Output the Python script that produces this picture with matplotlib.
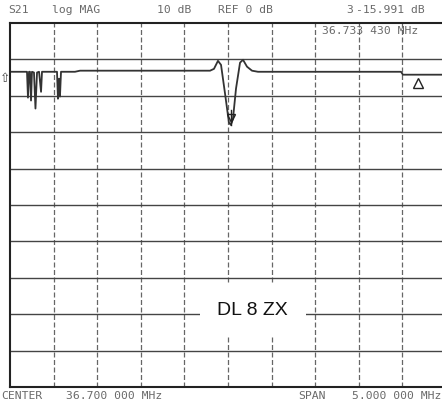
import matplotlib
matplotlib.use('Agg')
import matplotlib.pyplot as plt
import matplotlib.transforms as mtransforms
import numpy as np

# S21 sweep, 36.7 MHz centre, 5 MHz span, log mag 10 dB/div
center_mhz = 36.7
span_mhz = 5.0
scale_db = 10.0
top_db = 12.0

freq_mhz = [34.200, 34.383, 34.395, 34.406, 34.418, 34.429, 34.441, 34.452,
            34.475, 34.492, 34.510, 34.533, 34.556, 34.567, 34.739, 34.750,
            34.762, 34.773, 34.785, 34.945, 35.003, 35.806, 36.494, 36.539,
            36.585, 36.620, 36.666, 36.711, 36.7334, 36.757, 36.792, 36.838,
            36.872, 36.918, 36.975, 37.044, 37.526, 38.443, 38.684, 38.706,
            39.154, 39.200]
s21_db = [-1.4, -1.4, -1.4, -8.5, -1.4, -1.4, -9.3, -1.4,
          -1.6, -11.5, -1.6, -1.4, -6.9, -1.4, -1.4, -8.8,
          -3.3, -8.2, -1.4, -1.4, -1.1, -1.1, -1.1, -0.6,
          1.6, 0.5, -7.4, -15.4, -15.991, -14.3, -6.0, 1.1,
          1.9, 0.0, -1.1, -1.4, -1.4, -1.4, -1.4, -2.2,
          -2.2, -2.2]

# marker 3 (active) and delta reference marker
marker_f = 36.7334
marker_db = -15.991
delta_f = 38.88
delta_db = -2.2

start = center_mhz - span_mhz / 2
stop = center_mhz + span_mhz / 2

fig = plt.figure(figsize=(4.42, 4.02), dpi=100)
fig.patch.set_facecolor('white')
ax = fig.add_axes([10 / 442, 14 / 402, 436 / 442, 364 / 402])
ax.set_xlim(start, stop)
ax.set_ylim(top_db - 10 * scale_db, top_db)

ax.set_xticks(np.arange(start, stop + 0.01, span_mhz / 10)[1:-1])
ax.set_yticks(np.arange(top_db - 10 * scale_db, top_db + 0.1, scale_db)[1:-1])
ax.tick_params(length=0, labelbottom=False, labelleft=False)
ax.xaxis.grid(True, color='#666666', lw=0.9, ls=(0, (4, 2)))
ax.yaxis.grid(True, color='#444444', lw=1.0)
for sp in ax.spines.values():
    sp.set_color('#222222')
    sp.set_linewidth(1.5)

ax.plot(freq_mhz, s21_db, color='#333333', lw=1.3)

# active marker: open triangle sitting on the trace
up = mtransforms.offset_copy(ax.transData, fig=fig, x=0, y=5, units='points')
ax.plot([marker_f], [marker_db], marker='v', ms=6, mfc='none', mec='#222222',
        mew=1.0, transform=up)
ax.plot([marker_f, marker_f], [marker_db, marker_db + 4], color='#222222', lw=1.0)
# delta reference marker below the trace
down = mtransforms.offset_copy(ax.transData, fig=fig, x=0, y=-6, units='points')
ax.plot([delta_f], [delta_db], marker='^', ms=7, mfc='none', mec='#222222',
        mew=1.0, transform=down)

ax.text(0.557, 0.214, 'DL 8 ZX', transform=ax.transAxes, ha='center',
        va='center', fontsize=14, family='Liberation Sans', color='#111111',
        bbox=dict(boxstyle='square,pad=0.9', fc='white', ec='none'))

# instrument annotations
mono = dict(family='DejaVu Sans Mono', fontsize=8.2, color='#6a6a6a', va='center')


def px(x, y, s, **kw):
    fig.text(x / 442, 1 - y / 402, s, **mono, **kw)


px(8, 10, 'S21')
px(52, 10, 'log MAG')
px(157, 10, '10 dB')
px(218, 10, 'REF 0 dB')
px(346, 10, '3')
px(356, 10, '%.3f dB' % marker_db)
px(322, 31, '%.3f %03d MHz' % (marker_f, 430))
px(1, 396, 'CENTER')
px(66, 396, '%.3f 000 MHz' % center_mhz)
px(298, 396, 'SPAN')
px(352, 396, '%.3f 000 MHz' % span_mhz)
fig.text(5 / 442, 1 - 78 / 402, '\u21e7', fontsize=9, color='#444444',
         ha='center', va='center', family='DejaVu Sans')

fig.savefig('out.png', dpi=100)
